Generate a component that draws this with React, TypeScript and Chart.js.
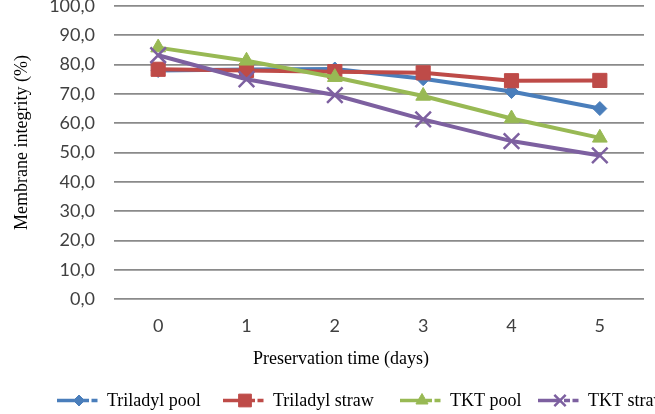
import { useEffect, useRef } from 'react';
import { Chart, registerables } from 'chart.js';
import { drawPoint } from 'chart.js/helpers';

Chart.register(...registerables);

// Preservation days on the x axis
const days = ['0', '1', '2', '3', '4', '5'];

// Membrane integrity (%) per extender and packaging
const triladylPool = [78.0, 78.3, 78.5, 75.2, 70.8, 65.0];
const triladylStraw = [78.4, 78.0, 77.6, 77.2, 74.5, 74.6];
const tktPool = [85.8, 81.3, 75.7, 69.3, 61.6, 55.0];
const tktStraw = [83.2, 75.0, 69.6, 61.3, 53.9, 49.0];

const seriesNames = ['Triladyl pool', 'Triladyl straw', 'TKT pool', 'TKT straw'];

const xTitle = 'Preservation time (days)';
const yTitle = 'Membrane integrity (%)';

const serif = '"Liberation Serif", "Times New Roman", serif';
const sans = 'Lato, "Open Sans", sans-serif';

// Legend item start positions and the x/y titles drawn beneath and beside the plot
const legendStarts = [57, 223, 400, 538];
const legendMarkerRadius = [5.5, 9, 7, 8];

const titlesAndLegend = {
  id: 'titlesAndLegend',
  afterDraw(chart: any) {
    const ctx: CanvasRenderingContext2D = chart.ctx;
    ctx.save();
    ctx.fillStyle = '#000';
    ctx.font = `18px ${serif}`;

    // x axis title
    ctx.textAlign = 'center';
    ctx.textBaseline = 'alphabetic';
    ctx.fillText(xTitle, 341, 364);

    // y axis title
    ctx.save();
    ctx.translate(22.5, 142.5);
    ctx.rotate(-Math.PI / 2);
    ctx.textBaseline = 'middle';
    ctx.fillText(yTitle, 0, 0);
    ctx.restore();

    // legend
    const ly = 400.5;
    chart.data.datasets.forEach((ds: any, i: number) => {
      const x0 = legendStarts[i];
      ctx.strokeStyle = ds.borderColor;
      ctx.lineWidth = 3.5;
      ctx.lineCap = 'butt';
      ctx.setLineDash([]);
      ctx.beginPath();
      ctx.moveTo(x0, ly);
      ctx.lineTo(x0 + 24, ly);
      ctx.stroke();
      ctx.setLineDash([6, 2.5]);
      ctx.beginPath();
      ctx.moveTo(x0 + 26, ly);
      ctx.lineTo(x0 + 43, ly);
      ctx.stroke();
      ctx.setLineDash([]);
      ctx.fillStyle = ds.pointBackgroundColor;
      ctx.strokeStyle = ds.pointBorderColor;
      ctx.lineWidth = ds.pointBorderWidth;
      drawPoint(ctx, { pointStyle: ds.pointStyle, radius: legendMarkerRadius[i], rotation: 0, borderWidth: ds.pointBorderWidth }, x0 + 22, ly);
      ctx.fillStyle = '#000';
      ctx.textAlign = 'left';
      ctx.textBaseline = 'alphabetic';
      ctx.fillText(seriesNames[i], x0 + 50, 405.5);
    });
    ctx.restore();
  },
};

function series(label: string, data: number[], color: string, pointStyle: string, radius: number, pointBorderWidth: number, order: number) {
  return {
    label,
    data,
    borderColor: color,
    backgroundColor: color,
    pointBackgroundColor: color,
    pointBorderColor: color,
    borderWidth: 4,
    pointStyle,
    pointRadius: radius,
    pointHoverRadius: radius,
    pointBorderWidth,
    tension: 0,
    fill: false,
    clip: false,
    order,
  };
}

export default function App() {
  const canvasRef = useRef<HTMLCanvasElement | null>(null);

  useEffect(() => {
    const canvas = canvasRef.current;
    if (!canvas) return;
    const chart = new Chart(canvas, {
      type: 'line',
      data: {
        labels: days,
        datasets: [
          series(seriesNames[0], triladylPool, '#4a7ebb', 'rectRot', 7, 1, 3),
          series(seriesNames[1], triladylStraw, '#be4b48', 'rect', 10, 1, 2),
          series(seriesNames[2], tktPool, '#98b954', 'triangle', 8.5, 1, 1),
          series(seriesNames[3], tktStraw, '#7d60a0', 'crossRot', 11, 2.5, 0),
        ] as any,
      },
      options: {
        animation: false,
        responsive: false,
        devicePixelRatio: 1,
        layout: { autoPadding: false, padding: { top: 6, right: 11, left: 0, bottom: 0 } },
        plugins: {
          legend: { display: false },
          tooltip: { enabled: false },
        },
        scales: {
          x: {
            offset: true,
            grid: { display: false, drawTicks: false },
            border: { display: false },
            ticks: {
              padding: 16.5,
              color: '#404040',
              font: { family: sans, size: 18 },
              maxRotation: 0,
            },
            afterFit(scale: any) {
              scale.height = 115;
              scale.paddingLeft = 0;
              scale.paddingRight = 0;
            },
          },
          y: {
            min: 0,
            max: 100,
            grid: { color: '#8a8a8a', lineWidth: 1.7, drawTicks: false },
            border: { display: false },
            ticks: {
              stepSize: 10,
              padding: 19,
              color: '#404040',
              font: { family: sans, size: 18, lineHeight: 0.6 },
              callback: (v: any) => Number(v).toFixed(1).replace('.', ','),
            },
            afterFit(scale: any) {
              scale.width = 114;
              scale.paddingTop = 0;
              scale.paddingBottom = 0;
            },
          },
        },
      },
      plugins: [titlesAndLegend],
    });
    return () => chart.destroy();
  }, []);

  return (
    <div style={{ position: 'fixed', left: 0, top: 0, width: 655, height: 414, overflow: 'hidden', background: '#fff' }}>
      <canvas ref={canvasRef} width={655} height={414} style={{ width: 655, height: 414, display: 'block' }} />
    </div>
  );
}
